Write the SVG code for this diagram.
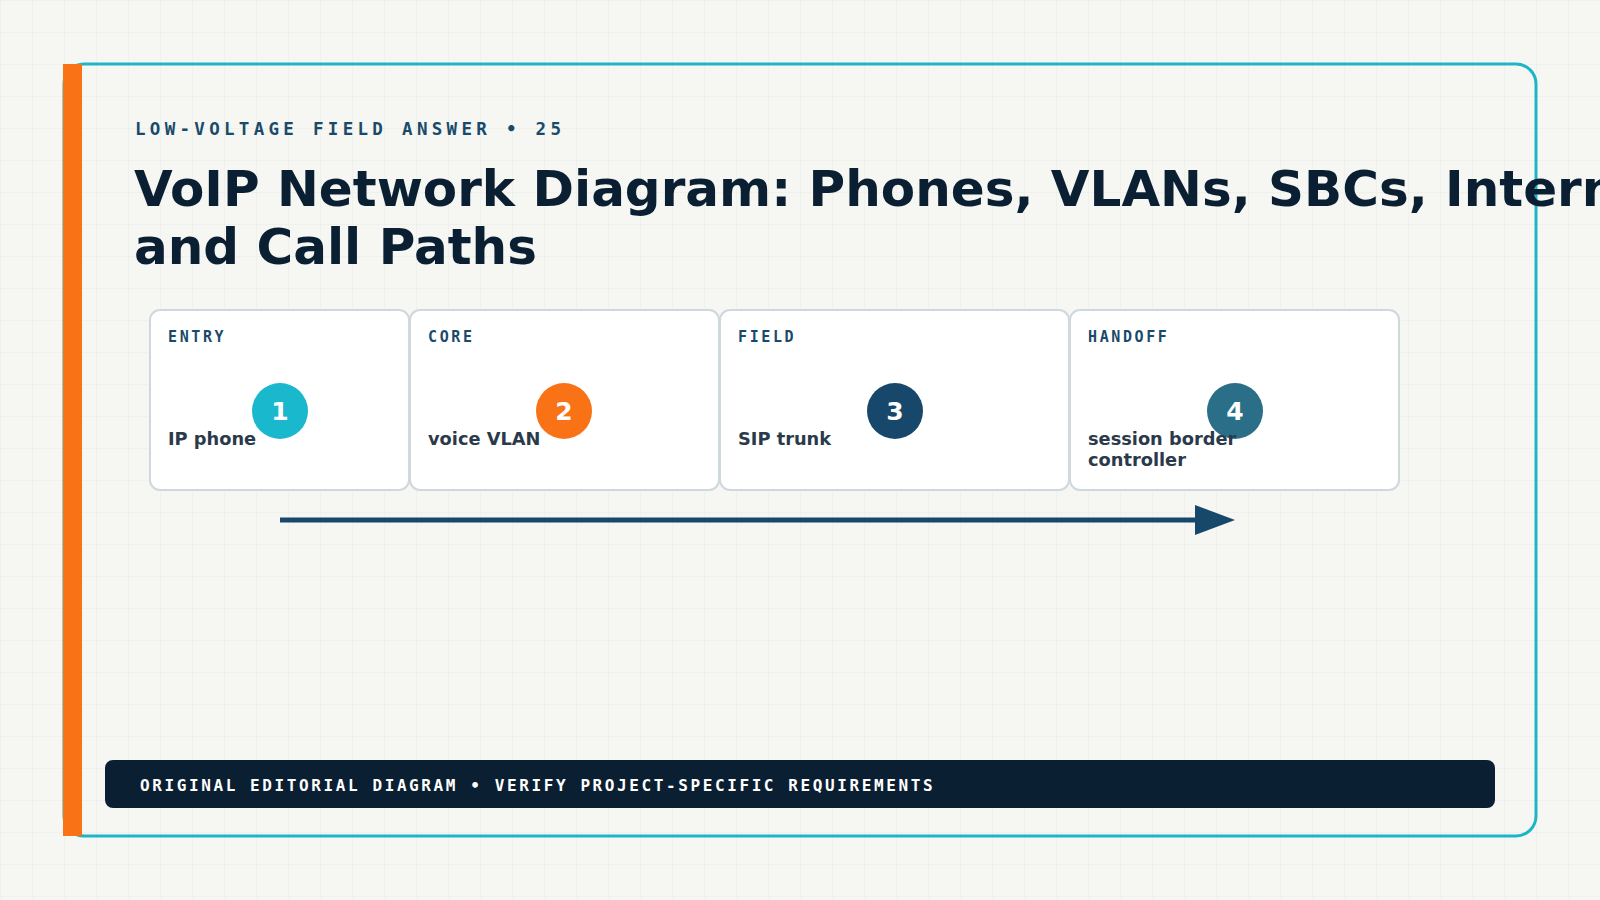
<svg xmlns="http://www.w3.org/2000/svg" width="1600" height="900" viewBox="0 0 1600 900">
<defs>
<pattern id="grid" width="32" height="32" patternUnits="userSpaceOnUse"><path d="M32 0H0V32" fill="none" stroke="#e8ebe6" stroke-width="1"/></pattern>
</defs>
<style>
.card{fill:#fff;stroke:#cfd8dc;stroke-width:2}
.tag{font-family:"DejaVu Sans Mono",monospace;font-weight:bold;font-size:15px;letter-spacing:2.6px;fill:#1a4a6a}
.lbl{font-family:"DejaVu Sans",sans-serif;font-weight:bold;font-size:17.8px;fill:#2b3a4a}
.num{font-family:"DejaVu Sans",sans-serif;font-weight:bold;font-size:25px;fill:#fff}
</style>
<rect width="1600" height="900" fill="#f6f6f2"/>
<rect width="1600" height="900" fill="url(#grid)"/>
<rect x="64" y="64" width="1472" height="772" rx="20" fill="none" stroke="#1fb5c8" stroke-width="3"/>
<rect x="63" y="64" width="19" height="772" fill="#f97316"/>
<text x="135" y="135" font-family="DejaVu Sans Mono,monospace" font-weight="bold" font-size="17.5" letter-spacing="4.3" fill="#1a4a6a">LOW-VOLTAGE FIELD ANSWER • 25</text>
<text font-family="DejaVu Sans,sans-serif" font-weight="bold" font-size="50" fill="#0b1f33"><tspan x="134" y="206">VoIP Network Diagram: Phones, VLANs, SBCs, Internet,</tspan><tspan x="134" y="264">and Call Paths</tspan></text>
<g id="node1"><rect class="card" x="150" y="310" width="259" height="180" rx="10"/><text class="tag" x="168" y="342">ENTRY</text><circle cx="280" cy="411" r="28" fill="#1ab8cc"/><text class="num" x="280" y="420" text-anchor="middle">1</text><text class="lbl" x="168" y="445">IP phone</text></g>
<g id="node2"><rect class="card" x="410" y="310" width="309" height="180" rx="10"/><text class="tag" x="428" y="342">CORE</text><circle cx="564" cy="411" r="28" fill="#f97316"/><text class="num" x="564" y="420" text-anchor="middle">2</text><text class="lbl" x="428" y="445">voice VLAN</text></g>
<g id="node3"><rect class="card" x="720" y="310" width="349" height="180" rx="10"/><text class="tag" x="738" y="342">FIELD</text><circle cx="895" cy="411" r="28" fill="#17486b"/><text class="num" x="895" y="420" text-anchor="middle">3</text><text class="lbl" x="738" y="445">SIP trunk</text></g>
<g id="node4"><rect class="card" x="1070" y="310" width="329" height="180" rx="10"/><text class="tag" x="1088" y="342">HANDOFF</text><circle cx="1235" cy="411" r="28" fill="#2a6e87"/><text class="num" x="1235" y="420" text-anchor="middle">4</text><text class="lbl" x="1088" y="445">session border</text><text class="lbl" x="1088" y="466">controller</text></g>
<g id="connectors"><line x1="280" y1="520" x2="1200" y2="520" stroke="#17486b" stroke-width="5"/><path d="M1195 505L1235 520L1195 535Z" fill="#17486b"/></g>
<rect x="105" y="760" width="1390" height="48" rx="8" fill="#0b1f33"/>
<text x="140" y="791" font-family="DejaVu Sans Mono,monospace" font-weight="bold" font-size="16" letter-spacing="2.6" fill="#fff">ORIGINAL EDITORIAL DIAGRAM • VERIFY PROJECT-SPECIFIC REQUIREMENTS</text>
</svg>
